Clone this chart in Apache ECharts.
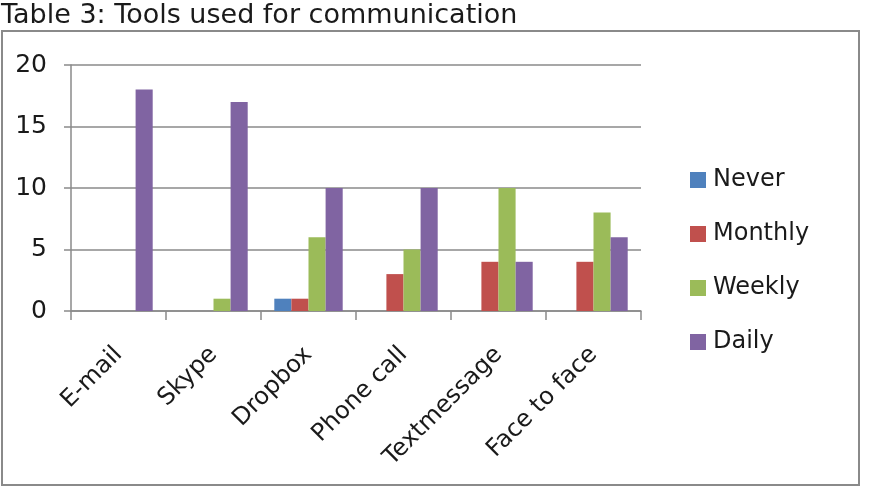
<!DOCTYPE html>
<html>
<head>
<meta charset="utf-8">
<script src="https://cdn.jsdelivr.net/npm/echarts@6/dist/echarts.min.js"></script>
<style>
  html, body { margin: 0; padding: 0; background: #fff; }
  #chart { width: 869px; height: 490px; }
</style>
</head>
<body>
<div id="chart"></div>
<script>
const categories = ['E-mail', 'Skype', 'Dropbox', 'Phone call', 'Textmessage', 'Face to face']
const never = [0, 0, 1, 0, 0, 0]
const monthly = [0, 0, 1, 3, 4, 4]
const weekly = [0, 1, 6, 5, 10, 8]
const daily = [18, 17, 10, 10, 4, 6]

const chart = echarts.init(document.getElementById('chart'))
const font = 'DejaVu Sans'

const bar = (name, data, color) => ({
  name: name,
  type: 'bar',
  data: data,
  barGap: '0%',
  barCategoryGap: '28%',
  itemStyle: { color: color },
  silent: true
})

chart.setOption({
  animation: false,
  backgroundColor: '#fff',
  title: {
    text: 'Table 3: Tools used for communication',
    left: -4,
    top: -3,
    textStyle: { fontFamily: font, fontSize: 27, fontWeight: 'normal', color: '#1a1a1a' }
  },
  graphic: [{
    type: 'rect',
    shape: { x: 2, y: 31, width: 857, height: 454 },
    style: { fill: 'none', stroke: '#8a8a8a', lineWidth: 2 },
    silent: true
  }],
  legend: {
    orient: 'vertical',
    left: 685,
    top: 163,
    itemWidth: 16,
    itemHeight: 16,
    itemGap: 30,
    icon: 'rect',
    textStyle: { fontFamily: font, fontSize: 24, color: '#1a1a1a', padding: [0, 0, 0, 2] },
    data: ['Never', 'Monthly', 'Weekly', 'Daily']
  },
  grid: { left: 71, right: 228, top: 65, bottom: 179 },
  xAxis: {
    type: 'category',
    data: categories,
    axisLine: { lineStyle: { color: '#8a8a8a', width: 1.5 } },
    axisTick: { show: true, interval: 0, length: 9, lineStyle: { color: '#8a8a8a', width: 1.5 } },
    axisLabel: { interval: 0, rotate: 45, margin: 40, fontFamily: font, fontSize: 24, color: '#1a1a1a' }
  },
  yAxis: {
    type: 'value',
    min: 0,
    max: 20,
    interval: 5,
    axisLine: { show: true, lineStyle: { color: '#8a8a8a', width: 1.5 } },
    axisTick: { show: true, length: 7, lineStyle: { color: '#8a8a8a', width: 1.5 } },
    axisLabel: { margin: 24, fontFamily: font, fontSize: 25, color: '#1a1a1a' },
    splitLine: { lineStyle: { color: '#8a8a8a', width: 1.5 } }
  },
  series: [
    bar('Never', never, '#4F81BD'),
    bar('Monthly', monthly, '#C0504D'),
    bar('Weekly', weekly, '#9BBB59'),
    bar('Daily', daily, '#8064A2')
  ]
})
</script>
</body>
</html>
